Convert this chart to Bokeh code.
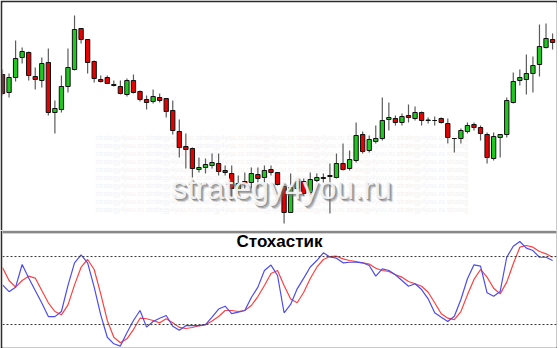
from bokeh.plotting import figure
from bokeh.layouts import column
from bokeh.models import Range1d, Span, BoxAnnotation, Label, ColumnDataSource
from bokeh.embed import file_html
from bokeh.resources import INLINE
from bokeh.core.properties import value

# ---- price candles (arbitrary price units) ----
opens = [156, 138, 153, 173, 178, 154, 150, 168, 118, 121,
         144, 161, 202, 191, 169, 151, 153, 146, 144, 136,
         150, 139, 131, 129, 133, 132, 120, 99, 84, 82,
         61, 63, 65, 67, 60, 57, 41, 49, 48, 56,
         53, 61, 58, 44, 18, 42, 49, 38, 50, 52,
         54, 53, 67, 62, 70, 96, 80, 89, 92, 111,
         112, 108, 115, 112, 118, 110, 110, 112, 107, 92,
         92, 99, 106, 103, 96, 72, 93, 96, 128, 150,
         151, 157, 166, 183, 191]
highs = [161, 157, 190, 183, 179, 163, 173, 182, 130, 155,
         182, 215, 202, 191, 170, 155, 155, 150, 150, 152,
         156, 140, 135, 141, 137, 132, 130, 111, 97, 83,
         73, 72, 77, 77, 65, 65, 55, 58, 63, 63,
         65, 65, 58, 44, 57, 52, 52, 58, 57, 57,
         67, 77, 87, 80, 108, 99, 95, 105, 133, 128,
         115, 117, 126, 124, 119, 113, 114, 113, 112, 92,
         102, 108, 108, 105, 98, 98, 96, 133, 158, 161,
         176, 174, 206, 207, 197]
lows = [135, 133, 149, 167, 150, 141, 143, 115, 97, 118,
        138, 160, 187, 157, 148, 148, 147, 144, 136, 134,
        137, 129, 121, 127, 128, 113, 96, 73, 62, 53,
        58, 57, 62, 55, 55, 30, 32, 42, 42, 42,
        48, 55, 45, 7, 18, 40, 35, 37, 48, 48,
        17, 52, 60, 60, 68, 77, 78, 87, 90, 100,
        105, 105, 108, 110, 105, 107, 105, 107, 87, 78,
        87, 97, 100, 90, 67, 70, 73, 93, 127, 145,
        136, 138, 154, 182, 181]
closes = [137, 153, 172, 179, 155, 151, 167, 118, 122, 144,
          163, 201, 191, 168, 152, 149, 147, 145, 137, 150,
          138, 131, 128, 134, 130, 119, 100, 83, 81, 62,
          63, 66, 68, 59, 58, 42, 47, 47, 57, 52,
          60, 58, 46, 18, 43, 49, 37, 51, 53, 53,
          55, 67, 61, 71, 95, 79, 91, 92, 110, 113,
          108, 114, 113, 118, 110, 110.5, 110, 108, 93, 92,
          100, 105, 103, 97, 73, 94, 96, 130, 149, 153,
          157, 165, 184, 192, 188]

# ---- stochastic oscillator ----
stoch_k = [55, 49, 53, 73, 61, 50, 39, 27, 27, 31.5,
           54.5, 74.5, 81.5, 74.5, 53, 28.6, 8.8, 3, 1, 12.7,
           23.6, 32.4, 17.7, 22.7, 25.6, 28, 18.5, 15, 19, 19,
           19, 20, 26.5, 33.7, 36.2, 29.7, 30.9, 32.4, 43.9, 53,
           67.7, 72.5, 63.3, 30.4, 37.7, 51.5, 61, 70.8, 76.5, 83.3,
           79.6, 78.6, 74.5, 75, 75, 74.5, 72.1, 62.7, 69.2, 67.7,
           63.9, 58.9, 53.8, 56, 50.9, 42.7, 30.4, 26.5, 22.7, 27.4,
           42.1, 60.4, 72.7, 71.5, 48, 45, 49.2, 79.4, 89.1, 93.3,
           87.4, 85.3, 79.4, 79.4, 76.5]
stoch_d = [70.3, 58.9, 53, 58.9, 62.7, 61, 50, 39.2, 31.5, 28.6,
           37.4, 55, 70.6, 77.4, 68.6, 47.1, 23.6, 8.8, 3.9, 7.4,
           15.6, 25.6, 25.1, 23.6, 21.5, 25.1, 21.5, 17.5, 16.5, 17.4,
           18.9, 19.8, 23.1, 27.1, 32.4, 32.4, 31.5, 32.4, 36.8, 44.7,
           54.5, 65, 67.7, 54.5, 42.5, 39.2, 48.5, 60.6, 70.6, 77.4,
           80, 80.3, 78, 76.5, 75.6, 74.5, 73.4, 69.7, 67.7, 66.8,
           63.9, 61.8, 58, 56, 53.8, 48.5, 39.2, 29.5, 25.6, 24.4,
           31.5, 46.2, 59.8, 68.6, 61.8, 52.1, 47.1, 57.4, 73.6, 88.3,
           89.8, 88.3, 84.5, 82.4, 79.4]
levels = [80, 20]
title_text = "Стохастик"
watermark_text = "strategy4you.ru"

n = len(opens)
idx = list(range(n))
xr = Range1d(0.0, 84.6)

UP = "#1ec81e"
DOWN = "#e60000"

src = ColumnDataSource(dict(
    x=idx,
    o=opens, h=highs, l=lows, c=closes,
    top=[max(a, b) for a, b in zip(opens, closes)],
    bot=[min(a, b) for a, b in zip(opens, closes)],
    col=[UP if c >= o else DOWN for o, c in zip(opens, closes)],
))

top = figure(width=557, height=230, x_range=xr, y_range=Range1d(0, 228),
             output_backend="svg", toolbar_location=None,
             x_axis_location=None, y_axis_location=None,
             min_border_left=2, min_border_right=1, min_border_top=2, min_border_bottom=0)
top.grid.visible = False
top.outline_line_color = None
top.border_fill_color = "#2b2b2b"
top.background_fill_color = "white"

# faint background texture of the watermark
pat_rows = [93 - 8 * k for k in range(10)]
top.text(x=[14.2] * len(pat_rows), y=pat_rows,
         text=[("strategy4you.ru " * 7 + "strateg")] * len(pat_rows),
         text_font=value("Liberation Sans"), text_font_size="7px",
         text_color="#f2f2f2", text_baseline="middle")

top.segment(x0="x", y0="l", x1="x", y1="h", source=src, line_color="#5c5c5c", line_width=1.2)
top.vbar(x="x", top="top", bottom="bot", width=0.66, source=src,
         fill_color="col", line_color="#111111", line_width=1)

# watermark (soft shadow + light face)
for off, alpha in [(3, 0.25), (2, 0.45), (1, 0.5)]:
    top.add_layout(Label(x=42.6, y=43, text=watermark_text, text_align="center",
                         text_baseline="alphabetic", text_font="Liberation Sans",
                         text_font_size="32px", text_color="#6e6e6e", text_alpha=alpha,
                         x_offset=off, y_offset=-off))
top.add_layout(Label(x=42.6, y=43, text=watermark_text, text_align="center",
                     text_baseline="alphabetic", text_font="Liberation Sans",
                     text_font_size="32px", text_color="#f4f4f4", text_alpha=0.95))

bot = figure(width=557, height=118, x_range=xr, y_range=Range1d(-0.26, 103),
             output_backend="svg", toolbar_location=None,
             x_axis_location=None, y_axis_location=None,
             min_border_left=2, min_border_right=1, min_border_top=0, min_border_bottom=1)
bot.grid.visible = False
bot.outline_line_color = None
bot.border_fill_color = "#2b2b2b"
bot.background_fill_color = "white"

bot.add_layout(BoxAnnotation(bottom=100.3, top=103, fill_color="#a6a6a6", fill_alpha=1, line_color=None))
bot.add_layout(BoxAnnotation(bottom=101.2, top=102.1, fill_color="#6a6a6a", fill_alpha=1, line_color=None))

for lv in levels:
    bot.add_layout(Span(location=lv, dimension="width", line_color="#333333",
                        line_dash="2 2", line_width=1))

bot.line(idx, stoch_d, line_color="#ff4040", line_width=1.2)
bot.line(idx, stoch_k, line_color="#4c4cf0", line_width=1.2)

bot.add_layout(Label(x=42.3, y=93, text=title_text, text_align="center",
                     text_baseline="middle", text_font="Liberation Sans",
                     text_font_style="bold", text_font_size="17px", text_color="#000000"))

layout = column(top, bot, spacing=0)
open("out.html", "w").write(file_html(layout, INLINE))
